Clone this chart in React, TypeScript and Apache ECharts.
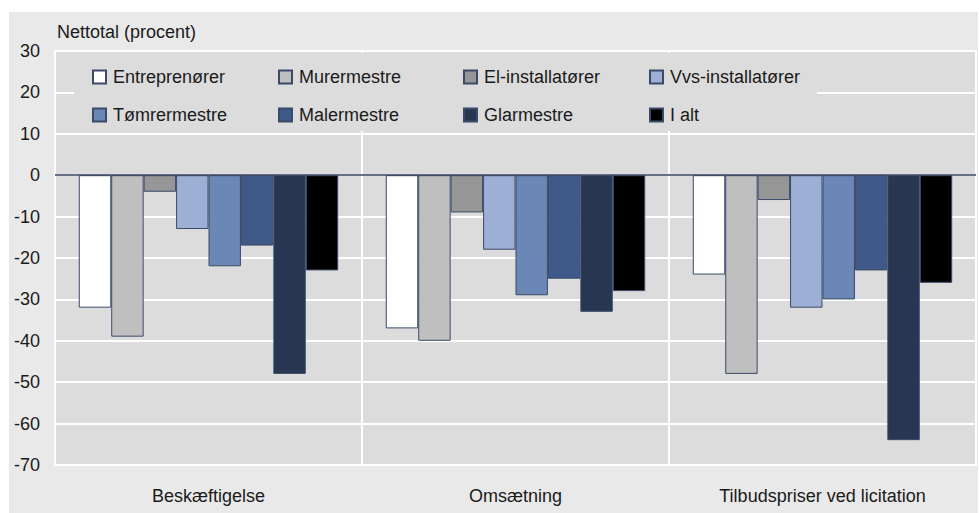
import React, { useEffect, useRef } from "react";
import * as echarts from "echarts";

const categories = ["Beskæftigelse", "Omsætning", "Tilbudspriser ved licitation"];
const seriesNames = [
  "Entreprenører",
  "Murermestre",
  "El-installatører",
  "Vvs-installatører",
  "Tømrermestre",
  "Malermestre",
  "Glarmestre",
  "I alt",
];
const entreprenorer = [-32, -37, -24];
const murermestre = [-39, -40, -48];
const elInstallatorer = [-4, -9, -6];
const vvsInstallatorer = [-13, -18, -32];
const tomrermestre = [-22, -29, -30];
const malermestre = [-17, -25, -23];
const glarmestre = [-48, -33, -64];
const iAlt = [-23, -28, -26];
const seriesValues = [
  entreprenorer,
  murermestre,
  elInstallatorer,
  vvsInstallatorer,
  tomrermestre,
  malermestre,
  glarmestre,
  iAlt,
];
const colors = ["#ffffff", "#bfbfbf", "#969696", "#9dafd4", "#6b87b5", "#3f5a88", "#283652", "#000000"];
const yTitle = "Nettotal (procent)";

function narrowAvailable(): boolean {
  try {
    const c = document.createElement("canvas").getContext("2d");
    if (!c) return false;
    const s = "Entreprenører Tilbudspriser";
    c.font = "40px monospace";
    const a = c.measureText(s).width;
    c.font = "40px 'Liberation Sans Narrow', monospace";
    const b = c.measureText(s).width;
    return Math.abs(a - b) > 1;
  } catch (e) {
    return false;
  }
}

export default function App() {
  const ref = useRef<HTMLDivElement>(null);
  useEffect(() => {
    if (!ref.current) return;
    const narrow = narrowAvailable();
    const FONT = narrow ? "'Liberation Sans Narrow', sans-serif" : "'Liberation Sans', Arial, sans-serif";
    const fsMain = narrow ? 22 : 18;
    const fsLegend = narrow ? 21.5 : 18;
    const chart = echarts.init(ref.current, undefined, { renderer: "svg" });
    const colX = [83, 269, 454, 640];
    const rowY = [56, 94];
    const legends = seriesNames.map((name, i) => ({
      data: [name],
      left: colX[i % 4],
      top: rowY[Math.floor(i / 4)],
      padding: 0,
      icon: "rect",
      itemWidth: 13,
      itemHeight: 13,
      selectedMode: false,
      textStyle: { fontFamily: FONT, fontSize: fsLegend, color: "#1a1a1a", padding: [0, 0, 0, 2] },
      z: 10,
    }));
    const series: any[] = seriesNames.map((name, i) => ({
      name,
      type: "bar",
      data: seriesValues[i],
      barGap: "0%",
      barCategoryGap: "15.5%",
      itemStyle: { color: colors[i], borderColor: "#3b4a68", borderWidth: 1 },
      emphasis: { disabled: true },
    }));
    series[series.length - 1].markLine = {
      silent: true,
      symbol: "none",
      label: { show: false },
      lineStyle: { color: "#34415f", width: 1.5, type: "solid" },
      data: [{ yAxis: 0 }],
      z: 5,
    };
    chart.setOption({
      animation: false,
      backgroundColor: "#e9e9e9",
      textStyle: { fontFamily: FONT },
      title: {
        text: yTitle,
        left: 48,
        top: narrow ? 9 : 11,
        padding: 0,
        textStyle: { fontFamily: FONT, fontSize: fsMain, fontWeight: "normal", color: "#1a1a1a" },
      },
      legend: legends,
      graphic: [
        {
          type: "rect",
          shape: { x: 65, y: 41, width: 743, height: 78 },
          style: { fill: "#dcdcdc" },
          z: 3,
          silent: true,
        },
      ],
      grid: {
        left: 46,
        top: 39,
        width: 921,
        height: 414,
        show: true,
        backgroundColor: "#dcdcdc",
        borderColor: "#ffffff",
        borderWidth: 2,
      },
      xAxis: {
        type: "category",
        data: categories,
        axisLine: { show: false },
        axisTick: { show: false },
        axisLabel: { fontFamily: FONT, fontSize: fsMain, color: "#1a1a1a", margin: narrow ? 20 : 22 },
        splitLine: { show: true, lineStyle: { color: "#ffffff", width: 2 } },
      },
      yAxis: {
        type: "value",
        min: -70,
        max: 30,
        interval: 10,
        axisLine: { show: false },
        axisTick: { show: false },
        axisLabel: { fontFamily: FONT, fontSize: fsMain, color: "#1a1a1a", margin: 15 },
        splitLine: { show: true, lineStyle: { color: "#ffffff", width: 2 } },
      },
      series,
    });
    return () => chart.dispose();
  }, []);
  return (
    <div
      ref={ref}
      style={{ position: "absolute", left: 9, top: 12, width: 969, height: 501 }}
    />
  );
}
